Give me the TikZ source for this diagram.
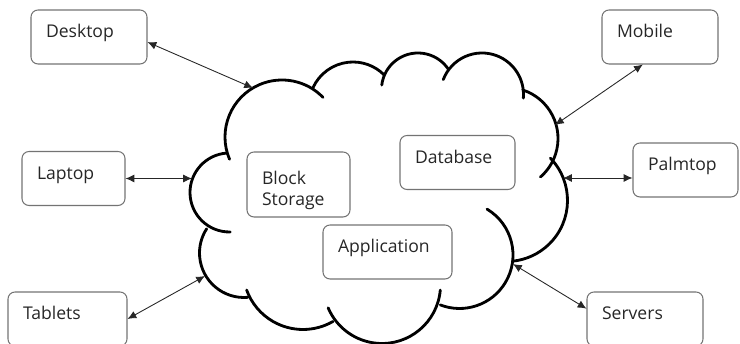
\documentclass[tikz,border=0pt]{standalone}
\usepackage{fontspec}
\setmainfont{Open Sans}
\usetikzlibrary{arrows.meta}

\begin{document}
\begin{tikzpicture}[scale=1.0,
  lobe/.style={line width=1.6pt, line cap=round},
  unit/.style={draw=black!55, line width=0.6pt, rounded corners=4pt,
    align=left, inner xsep=0.3cm, inner ysep=0pt, text height=0.56cm,
    text depth=0.52cm, text=black!85, font=\fontsize{10}{11.4}\selectfont},
  link/.style={{Latex[length=5pt,width=4.5pt]}-{Latex[length=5pt,width=4.5pt]},
    line width=0.5pt, black!85}]

  \useasboundingbox (0, 0) rectangle (14.8, 6.88);

  % -- Cloud outline --
  \draw[lobe] ([shift={(203:1.14)}]5.64, 4.14) arc (203:44:1.14);
  \draw[lobe] ([shift={(156:0.88)}]7.06, 4.76) arc (156:45:0.88);
  \draw[lobe] ([shift={(173:0.73)}]8.36, 5.09) arc (173:34:0.73);
  \draw[lobe] ([shift={(159:0.83)}]9.64, 4.99) arc (159:-5:0.83);
  \draw[lobe] ([shift={(72:1.02)}]10.14, 4.11) arc (72:-49:1.02);
  \draw[lobe] ([shift={(44:1.22)}]10.13, 2.87) arc (44:-84:1.22);
  \draw[lobe] ([shift={(59:1.07)}]9.19, 1.78) arc (59:-111:1.07);
  \draw[lobe] ([shift={(-5:1.17)}]7.64, 1.18) arc (-5:-157:1.17);
  \draw[lobe] ([shift={(-60:1.20)}]6.06, 1.49) arc (-60:-160:1.20);
  \draw[lobe] ([shift={(275:0.89)}]4.88, 1.82) arc (275:147:0.89);
  \draw[lobe] ([shift={(271:0.79)}]4.59, 3.03) arc (271:94:0.79);

  % -- Ports on the cloud --
  \coordinate (cdesk) at (5.06, 5.12);
  \coordinate (cmob) at (11.10, 4.38);
  \coordinate (clap) at (3.84, 3.30);
  \coordinate (cpalm) at (11.26, 3.32);
  \coordinate (ctab) at (4.10, 1.36);
  \coordinate (cserv) at (10.26, 1.60);

  % -- Services inside --
  \node[unit, text width=1.46cm, text height=0.66cm, text depth=0.64cm]
    (block) at (5.97, 3.19) {Block\\Storage};
  \node[unit, text width=1.70cm] (database) at (9.15, 3.63) {Database};
  \node[unit, text width=1.98cm] (application) at (7.75, 1.84) {Application};

  % -- Clients outside --
  \node[unit, text width=1.72cm] (desktop) at (1.78, 6.14) {Desktop};
  \node[unit, text width=1.72cm] (mobile) at (13.20, 6.14) {Mobile};
  \node[unit, text width=1.46cm] (laptop) at (1.47, 3.31) {Laptop};
  \node[unit, text width=1.50cm] (palmtop) at (13.71, 3.48) {Palmtop};
  \node[unit, text width=1.78cm] (tablets) at (1.35, 0.50) {Tablets};
  \node[unit, text width=1.72cm] (servers) at (12.90, 0.50) {Servers};

  % -- Links --
  \draw[link] (desktop.-5) -- (cdesk);
  \draw[link] (mobile.238) -- (cmob);
  \draw[link] (laptop.east) -- (laptop.east -| clap);
  \draw[link] (cpalm) -- (cpalm -| palmtop.west);
  \draw[link] (tablets.east) -- (ctab);
  \draw[link] (servers.170) -- (cserv);

\end{tikzpicture}
\end{document}
